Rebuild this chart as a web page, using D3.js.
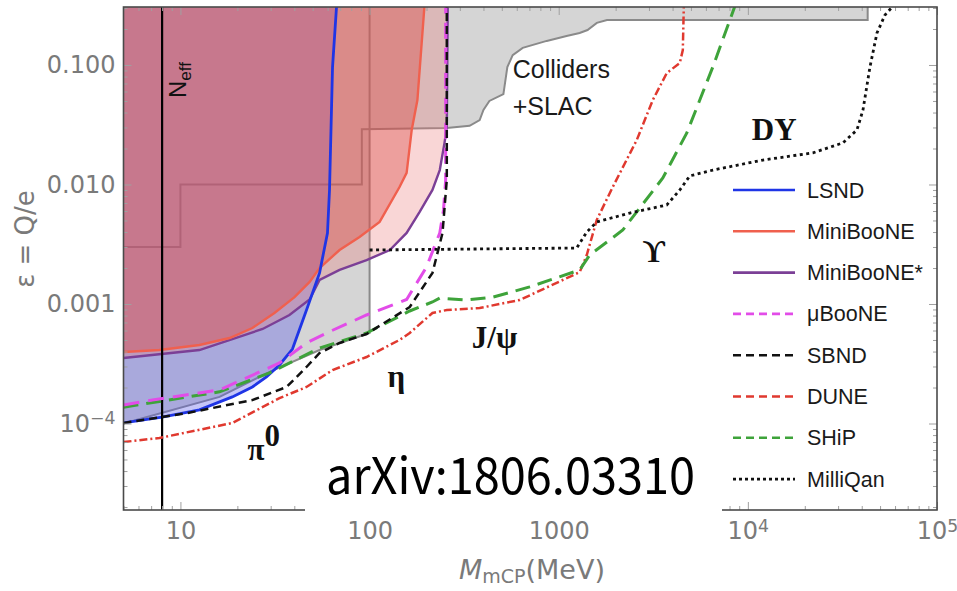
<!DOCTYPE html>
<html><head><meta charset="utf-8">
<script src="https://cdn.jsdelivr.net/npm/d3@7"></script>
<style>body{margin:0;background:#fff} svg{display:block}</style>
</head><body>
<svg id="c" width="957" height="591"></svg>
<script>
// ---------------- data ----------------
const xTickValues = [10, 100, 1000, 1e4, 1e5];
const xTickLabels = ["10", "100", "1000", "10^4", "10^5"];
const yTickValues = [1e-4, 1e-3, 1e-2, 1e-1];
const yTickLabels = ["10^\u22124", "0.001", "0.010", "0.100"];

const colliders = [[5,0.003],[10,0.003],[10,0.01],[91,0.01],[91,0.029],[256,0.0297],[338,0.031],[382,0.0346],[400,0.042],[430,0.050],[510,0.057],[535,0.096],[571,0.121],[645,0.139],[864,0.159],[1100,0.175],[1290,0.185],[1420,0.196],[1590,0.225],[1800,0.238],[43000,0.238],[43000,0.31]];
const slac = [[5,1.0e-4],[16.1,1.67e-4],[29.6,2.7e-4],[54.4,4.12e-4],[100,5.72e-4],[100,0.31]];
const lsnd = [[5,1.01e-4],[8.0,1.13e-4],[12.6,1.30e-4],[18.8,1.67e-4],[24.0,2.02e-4],[28.5,2.45e-4],[33.4,3.09e-4],[39.1,4.2e-4],[46.4,8.9e-4],[54.4,1.82e-3],[55.7,2.2e-3],[59.9,3.93e-3],[61.4,9.0e-3],[63.7,0.096],[66.9,0.31]];
const miniboone = [[5,3.97e-4],[7.74,4.12e-4],[12.6,4.54e-4],[18.2,5.19e-4],[24.0,6.3e-4],[31.4,8.41e-4],[40.1,1.14e-3],[48.2,1.53e-3],[54.4,2.0e-3],[69.4,2.83e-3],[88.5,3.64e-3],[113,4.86e-3],[144,9.53e-3],[157,0.0125],[167,0.0286],[179,0.0509],[195,0.31]];
const minibooneStar = [[5,3.53e-4],[12.6,4.12e-4],[27.2,6.18e-4],[37.7,8.09e-4],[48.2,1.09e-3],[54.4,1.59e-3],[69.4,1.93e-3],[96.4,2.33e-3],[128,2.83e-3],[157,3.93e-3],[184,5.89e-3],[215,9.0e-3],[235,0.0132],[249,0.0223],[256,0.0303],[259,0.31]];
const microboone = [[5,1.43e-4],[7.11,1.57e-4],[16.1,1.91e-4],[33.4,3.21e-4],[46.4,4.72e-4],[59.2,5.72e-4],[96.4,8.09e-4],[157,1.09e-3],[200,2.04e-3],[235,3.93e-3],[246,6.12e-3],[252.5,0.0109],[252.5,0.31]];
const sbnd = [[5,1.01e-4],[10.76,1.22e-4],[24.0,1.57e-4],[36.4,2.02e-4],[46.4,2.97e-4],[54.4,3.89e-4],[69.4,4.72e-4],[96.4,5.61e-4],[163,9.44e-4],[215,1.82e-3],[243,3.93e-3],[256,0.0109],[256,0.31]];
const ship = [[5,1.37e-4],[16.1,1.84e-4],[29.6,2.65e-4],[54.4,4.28e-4],[96.4,5.72e-4],[163,8.74e-4],[215,1.04e-3],[235,1.12e-3],[326,1.08e-3],[448,1.14e-3],[702,1.39e-3],[1292,1.93e-3],[1459,2.57e-3],[2182,4.16e-3],[3551,0.01133],[4756,0.027],[6528,0.0962],[8535,0.31]];
const dune = [[5,7.0e-5],[7.74,7.56e-5],[18.8,1.01e-4],[33.4,1.63e-4],[46.4,2.02e-4],[63.7,2.8e-4],[96.4,3.6e-4],[144,5.0e-4],[163,5.72e-4],[215,8.41e-4],[256,8.91e-4],[382,9.26e-4],[622,1.08e-3],[1292,1.85e-3],[1407,2.57e-3],[1589,5.05e-3],[1931,9.53e-3],[2587,0.0236],[3144,0.0509],[3728,0.0857],[4368,0.1039],[4530,0.1335],[4585,0.31]];
const milliqan = [[100,2.83e-3],[1245,2.94e-3],[1407,4.0e-3],[1589,4.86e-3],[2376,5.77e-3],[3728,6.74e-3],[4368,9.0e-3],[4933,0.0118],[6528,0.0132],[12010,0.016],[22080,0.0184],[31810,0.0223],[37740,0.0286],[40610,0.042],[44210,0.0962],[48150,0.185],[53080,0.262],[58500,0.31]];
const neffMass = 8;

const legendNames = ["LSND","MiniBooNE","MiniBooNE*","\u03bcBooNE","SBND","DUNE","SHiP","MilliQan"];
const legendColors = ["#1f35e6","#f0604e","#7b3f96","#e24ce8","#111111","#e0392f","#3ea33a","#111111"];
const legendDashes = [null,null,null,"8,5","8,5","8,5","8,5","3,3"];

const regionLabels = [
  {t:"Colliders", m:571, e:0.0778},
  {t:"+SLAC", m:571, e:0.0382}
];
const particleLabels = [
  {t:"DY", m:10500, e:0.0236},
  {t:"\u03d2", m:2782, e:0.00225},
  {t:"J/\u03c8", m:347, e:4.28e-4},
  {t:"\u03b7", m:124.5, e:2.02e-4},
  {t:"\u03c0", m:22.6, e:4.95e-5, sup:"0"}
];

// ---------------- layout ----------------
const L=123.5, R=937, T=7, B=510;
const svg = d3.select("#c");
const x = d3.scaleLog().domain([5,1e5]).range([L,R]);
const y = d3.scaleLog().domain([1.889e-5,0.3056]).range([B,T]);
const line = d3.line().x(d=>x(d[0])).y(d=>y(d[1]));
const TOPE = 0.31;

svg.append("defs").append("clipPath").attr("id","clip")
  .append("rect").attr("x",L).attr("y",T).attr("width",R-L).attr("height",B-T);
const plot = svg.append("g").attr("clip-path","url(#clip)");

// gray regions
plot.append("path").attr("d", line(colliders.concat([[5,TOPE]]))+"Z").attr("fill","#d5d5d5");
plot.append("path").attr("d", line(slac.concat([[5,TOPE]]))+"Z").attr("fill","#d5d5d5");
plot.append("path").attr("d", line(colliders)).attr("fill","none").attr("stroke","#8a8a8a").attr("stroke-width",2);
plot.append("path").attr("d", line(slac)).attr("fill","none").attr("stroke","#8a8a8a").attr("stroke-width",2);

// shaded exclusion regions
plot.append("path").attr("d", line(lsnd.concat([[5,TOPE]]))+"Z").attr("fill","rgb(90,90,235)").attr("fill-opacity",0.35);
plot.append("path").attr("d", line(minibooneStar.concat([[5,TOPE]]))+"Z").attr("fill","rgb(235,120,120)").attr("fill-opacity",0.3);
plot.append("path").attr("d", line(miniboone.concat([[5,TOPE]]))+"Z").attr("fill","rgb(215,60,55)").attr("fill-opacity",0.36);

// boundary lines
plot.append("path").attr("d", line(minibooneStar)).attr("fill","none").attr("stroke","#7b3f96").attr("stroke-width",2.4);
plot.append("path").attr("d", line(miniboone)).attr("fill","none").attr("stroke","#f0604e").attr("stroke-width",2.4);
plot.append("path").attr("d", line(lsnd)).attr("fill","none").attr("stroke","#1f35e6").attr("stroke-width",2.8);

// Neff line
plot.append("line").attr("x1",x(neffMass)).attr("x2",x(neffMass)).attr("y1",T).attr("y2",B)
  .attr("stroke","#000").attr("stroke-width",2.2);

// projections
plot.append("path").attr("d", line(dune)).attr("fill","none").attr("stroke","#e0392f").attr("stroke-width",2.5).attr("stroke-dasharray","8,3,2,3");
plot.append("path").attr("d", line(ship)).attr("fill","none").attr("stroke","#3ea33a").attr("stroke-width",3).attr("stroke-dasharray","15,8");
plot.append("path").attr("d", line(microboone)).attr("fill","none").attr("stroke","#e24ce8").attr("stroke-width",3).attr("stroke-dasharray","16,9");
plot.append("path").attr("d", line(sbnd)).attr("fill","none").attr("stroke","#111").attr("stroke-width",2.5).attr("stroke-dasharray","8,5");
plot.append("path").attr("d", line(milliqan)).attr("fill","none").attr("stroke","#111").attr("stroke-width",2.8).attr("stroke-dasharray","3,3.5");

// ---------------- axes ----------------
function minor(lo,hi,dmin,dmax){const a=[];for(let e=lo;e<=hi;e++)for(let m=2;m<=9;m++){const v=m*Math.pow(10,e);if(v>=dmin&&v<=dmax)a.push(v);}return a;}
const xMinor = minor(0,4,5,1e5);
const yMinor = minor(-5,-1,1.889e-5,0.3056);
function sup(sel){
  sel.each(function(){const t=d3.select(this);const s=t.text();
    if(s.includes("^")){const [b,e]=s.split("^");t.text(null);t.append("tspan").text(b);
      t.append("tspan").attr("dy","-0.42em").attr("font-size","0.72em").text(e);}});
}
const tickCol="#a0a0a0";
function styleAxis(g){g.select(".domain").remove();g.selectAll(".tick line").attr("stroke",tickCol);}

const axFont = "'DejaVu Sans', Verdana, sans-serif";
const lgFont = "'Liberation Sans', Arial, Helvetica, sans-serif";
svg.append("g").attr("transform",`translate(0,${B})`)
  .call(d3.axisBottom(x).tickValues(xTickValues).tickSize(-8).tickPadding(12).tickFormat((d,i)=>xTickLabels[i]))
  .call(styleAxis)
  .call(g=>g.selectAll("text").attr("fill","#7a7a7a").attr("font-size",24).attr("font-family",axFont).call(sup));
svg.append("g").attr("transform",`translate(0,${B})`)
  .call(d3.axisBottom(x).tickValues(xMinor).tickSize(-4).tickFormat(""))
  .call(styleAxis);
svg.append("g").attr("transform",`translate(0,${T})`)
  .call(d3.axisTop(x).tickValues(xTickValues).tickSize(-8).tickFormat("")).call(styleAxis);
svg.append("g").attr("transform",`translate(0,${T})`)
  .call(d3.axisTop(x).tickValues(xMinor).tickSize(-4).tickFormat("")).call(styleAxis);

svg.append("g").attr("transform",`translate(${L},0)`)
  .call(d3.axisLeft(y).tickValues(yTickValues).tickSize(-8).tickPadding(8).tickFormat((d,i)=>yTickLabels[i]))
  .call(styleAxis)
  .call(g=>g.selectAll("text").attr("fill","#7a7a7a").attr("font-size",24).attr("font-family",axFont).call(sup));
svg.append("g").attr("transform",`translate(${L},0)`)
  .call(d3.axisLeft(y).tickValues(yMinor).tickSize(-4).tickFormat("")).call(styleAxis);
svg.append("g").attr("transform",`translate(${R},0)`)
  .call(d3.axisRight(y).tickValues(yTickValues).tickSize(-8).tickFormat("")).call(styleAxis);
svg.append("g").attr("transform",`translate(${R},0)`)
  .call(d3.axisRight(y).tickValues(yMinor).tickSize(-4).tickFormat("")).call(styleAxis);

// frame
svg.append("rect").attr("x",L).attr("y",T).attr("width",R-L).attr("height",B-T)
  .attr("fill","none").attr("stroke","#4a4a4a").attr("stroke-width",1.6);

// axis titles
const xt = svg.append("text").attr("x",532).attr("y",579).attr("text-anchor","middle")
  .attr("fill","#7a7a7a").attr("font-size",27).attr("font-family",axFont);
xt.append("tspan").attr("font-style","italic").text("M");
xt.append("tspan").attr("font-size",19).attr("dy",4).text("mCP");
xt.append("tspan").attr("dy",-4).text("(MeV)");

svg.append("text").attr("transform","translate(34,239) rotate(-90)").attr("text-anchor","middle")
  .attr("fill","#7a7a7a").attr("font-size",26).attr("font-family",axFont).text("\u03b5 = Q/e");

// Neff label
const nt = svg.append("text").attr("transform",`translate(${x(neffMass)+24},98) rotate(-90)`)
  .attr("fill","#111").attr("font-size",24).attr("font-family",lgFont);
nt.append("tspan").text("N");
nt.append("tspan").attr("font-size",17).attr("dy",5).text("eff");

// region labels
svg.selectAll(".rl").data(regionLabels).enter().append("text")
  .attr("x",d=>x(d.m)).attr("y",d=>y(d.e)).attr("fill","#1a1a1a").attr("font-size",25)
  .attr("font-family",lgFont).text(d=>d.t);

// particle labels
const pl = svg.selectAll(".pl").data(particleLabels).enter().append("text")
  .attr("x",d=>x(d.m)).attr("y",d=>y(d.e)).attr("fill","#111").attr("font-size",31).attr("font-weight","bold")
  .attr("font-family","'Liberation Serif','DejaVu Serif','Times New Roman',serif");
pl.append("tspan").text(d=>d.t);
pl.filter(d=>d.sup).append("tspan").attr("dy",-14).text(d=>d.sup);

// legend
const lg = svg.append("g");
legendNames.forEach((n,i)=>{
  const cy = 190 + i*41.3;
  lg.append("line").attr("x1",733).attr("x2",795).attr("y1",cy).attr("y2",cy)
    .attr("stroke",legendColors[i]).attr("stroke-width",2.6).attr("stroke-dasharray",legendDashes[i]);
  lg.append("text").attr("x",807).attr("y",cy+7.5).attr("fill","#1a1a1a").attr("font-size",21.5)
    .attr("font-family",lgFont).text(n);
});

// arXiv overlay
svg.append("rect").attr("x",305).attr("y",446).attr("width",417).attr("height",70).attr("fill","#fff");
svg.append("text").attr("x",326).attr("y",494).attr("fill","#000").attr("font-size",50)
  .attr("font-family","'Noto Sans CJK SC','Liberation Sans',sans-serif")
  .attr("textLength",369).attr("lengthAdjust","spacingAndGlyphs").text("arXiv:1806.03310");
</script>
</body></html>
